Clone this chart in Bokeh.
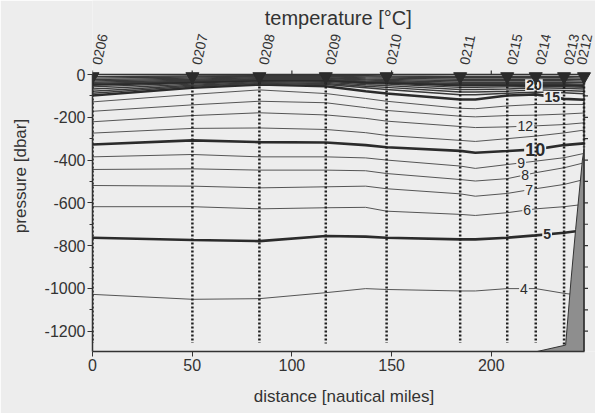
import numpy as np
from bokeh.plotting import figure
from bokeh.models import Range1d, SingleIntervalTicker, ColumnDataSource
from bokeh.core.properties import value
from bokeh.embed import file_html
from bokeh.resources import INLINE

# ---------------- data ----------------
station_names = ["0206", "0207", "0208", "0209", "0210", "0211", "0215", "0214", "0213", "0212"]
station_x = [0, 50.1, 83.7, 117, 147.5, 184.4, 208, 222.3, 236.5, 246.5]
cast_depth = [-1255, -1255, -1255, -1258, -1255, -1255, -1255, -1255, -1262, -340]

iso_x = [0, 50.1, 83.7, 117, 137, 147.5, 184.4, 192, 208, 222.3, 236.5, 246.5]
t04 = [-1028, -1051, -1048, -1020, -1001, -1005, -1012, -1012, -1001, -1001, -1023, -1035]
t05 = [-763, -774, -779, -755, -758, -763, -771, -771, -763, -752, -740, -728]
t06 = [-618, -618, -628, -623, -621, -639, -654, -659, -646, -628, -618, -607]
t07 = [-519, -522, -530, -525, -522, -534, -558, -569, -556, -534, -514, -491]
t08 = [-444, -441, -447, -447, -450, -463, -491, -498, -487, -459, -436, -413]
t09 = [-385, -374, -385, -385, -390, -400, -428, -439, -421, -405, -389, -369]
t10 = [-327, -308, -316, -318, -330, -340, -357, -366, -358, -350, -330, -322]
t11 = [-274, -252, -250, -257, -272, -285, -308, -313, -300, -288, -273, -260]
t12 = [-221, -192, -179, -189, -205, -218, -243, -248, -245, -240, -234, -226]
t13 = [-172, -142, -125, -132, -155, -168, -195, -198, -192, -190, -185, -180]
t14 = [-128, -93, -72, -89, -112, -125, -158, -160, -147, -140, -140, -140]
t15 = [-98, -62, -47, -55, -78, -89, -117, -117, -98, -93, -114, -118]
t16 = [-88, -55, -42, -47, -62, -70, -95, -95, -88, -82, -85, -90]
t17 = [-78, -50, -38, -42, -55, -60, -82, -82, -78, -72, -75, -78]
t18 = [-68, -45, -34, -37, -48, -52, -70, -70, -68, -62, -65, -68]
t19 = [-58, -40, -30, -32, -42, -45, -60, -60, -58, -56, -57, -60]
t20 = [-48, -35, -26, -27, -36, -38, -50, -50, -50, -50, -50, -52]
t21 = [-42, -31, -23, -23, -31, -33, -43, -43, -43, -43, -43, -45]
t22 = [-36, -27, -19, -19, -26, -28, -36, -36, -36, -36, -36, -38]
t23 = [-30, -22, -15, -15, -21, -23, -29, -29, -29, -29, -29, -31]
t24 = [-24, -17, -11, -11, -16, -17, -22, -22, -22, -22, -22, -24]
t25 = [-17, -12, -8, -8, -11, -12, -15, -15, -15, -15, -15, -17]
t26 = [-10, -7, -5, -5, -6, -7, -9, -9, -9, -9, -9, -10]

label_temps = [4, 5, 6, 7, 8, 9, 10, 12, 15, 20]
label_x = [216.4, 228, 218, 219, 217, 215, 222, 217, 230.6, 221.4]

bottom_x = [223, 237.3, 240, 242.3, 245.7, 246.5, 246.5]
bottom_p = [-1295, -1265, -960, -724, -400, -350, -1295]

x_ticks = [0, 50, 100, 150, 200]
y_ticks = [-1200, -1000, -800, -600, -400, -200, 0]
right_ticks = list(range(-1200, 1, 100))

isotherms = {4: t04, 5: t05, 6: t06, 7: t07, 8: t08, 9: t09, 10: t10, 11: t11,
             12: t12, 13: t13, 14: t14, 15: t15, 16: t16, 17: t17, 18: t18,
             19: t19, 20: t20, 21: t21, 22: t22, 23: t23, 24: t24, 25: t25, 26: t26}

# ---------------- layout / style ----------------
BG = "#ededed"
INK = "#333333"
FONT = "Liberation Sans"
W, H = 595, 413
BL = 92                           # left border (px)
TOP0 = 74                         # canvas y of the 0 dbar line
BOX_W, BOX_H = 491.5, 277         # visible box size in px
BB = H - TOP0 - BOX_H             # bottom border
XR = 246.5                        # right edge of the section (nm)
Y0 = -1295                        # bottom of the section (dbar)
px_x = BOX_W / XR
px_y = BOX_H / -Y0
X1 = XR + (W - BL - BOX_W) / px_x
YT = TOP0 / px_y

p = figure(width=W, height=H, x_range=Range1d(0, X1), y_range=Range1d(Y0, YT),
           output_backend="svg", toolbar_location=None,
           min_border_left=BL, min_border_right=0, min_border_top=0, min_border_bottom=BB,
           background_fill_color=BG, border_fill_color=BG)
p.grid.visible = False
p.outline_line_color = None

p.xaxis.ticker = x_ticks
p.yaxis.ticker = SingleIntervalTicker(interval=200, num_minor_ticks=2)
p.xaxis.bounds = (0, XR)
p.yaxis.bounds = (Y0, 0)
p.yaxis.major_label_overrides = {v: str(v) for v in y_ticks}
for ax in (p.xaxis[0], p.yaxis[0]):
    ax.axis_line_color = INK
    ax.axis_line_width = 1.5
    ax.major_tick_line_color = INK
    ax.minor_tick_line_color = INK
    ax.major_tick_in = 0
    ax.major_tick_out = 5
    ax.minor_tick_in = 0
    ax.minor_tick_out = 3
    ax.major_label_text_font = FONT
    ax.major_label_text_font_size = "16px"
    ax.major_label_text_color = INK
    ax.axis_label_text_font = FONT
    ax.axis_label_text_font_size = "17px"
    ax.axis_label_text_font_style = "normal"
    ax.axis_label_text_color = INK
p.xaxis.axis_label = "distance [nautical miles]"
p.yaxis.axis_label = "pressure [dbar]"
p.xaxis.major_label_standoff = 2
p.xaxis.axis_label_standoff = 13
p.yaxis.major_label_standoff = 2
p.yaxis.axis_label_standoff = 12

# isotherms
thick = {5, 10, 15, 20}
for t, ys in isotherms.items():
    if t in thick:
        p.line(iso_x, ys, line_color="#2b2b2b", line_width=2.6)
    elif t > 15:
        p.line(iso_x, ys, line_color="#3a3a3a", line_width=1.4)
    else:
        p.line(iso_x, ys, line_color="#555555", line_width=1.0)

# isotherm labels
lab_y = [float(np.interp(lx, iso_x, isotherms[t])) for t, lx in zip(label_temps, label_x)]
lab_src = ColumnDataSource(dict(
    x=label_x, y=lab_y, text=[str(t) for t in label_temps],
    style=["bold" if t in thick else "normal" for t in label_temps],
    size=["18px" if t == 10 else "14px" for t in label_temps]))
p.text(x="x", y="y", text="text", source=lab_src, text_align="center", text_baseline="middle",
       text_font=value(FONT), text_font_style="style", text_font_size="size",
       text_color="#2b2b2b", background_fill_color=BG, padding=1)

# bottom topography
p.patch(bottom_x, bottom_p, fill_color="#8e8e8e", line_color=INK, line_width=1)

# box: top and right edges with their outward ticks
p.segment(x0=[0, XR], y0=[0, Y0], x1=[XR, XR], y1=[0, 0], line_color=INK, line_width=1.5)
p.segment(x0=x_ticks, y0=[0] * len(x_ticks), x1=x_ticks, y1=[4 / px_y] * len(x_ticks),
          line_color=INK, line_width=1.2)
p.segment(x0=[XR] * len(right_ticks), y0=right_ticks, x1=[XR + 4 / px_x] * len(right_ticks),
          y1=right_ticks, line_color=INK, line_width=1.2)

# station casts
p.segment(x0=station_x, y0=[0] * len(station_x), x1=station_x, y1=cast_depth,
          line_color="#1e1e1e", line_width=2.5, line_dash="2 2")
p.scatter(station_x, [-2 / px_y] * len(station_x), marker="inverted_triangle", size=13,
          fill_color="#2b2b2b", line_color="#2b2b2b")

# station names (last one nudged left so it stays on the page)
name_dx = [4] * (len(station_names) - 1) + [-3]
p.text(x=station_x, y=[10 / px_y] * len(station_x), text=station_names, angle=78,
       angle_units="deg", x_offset=name_dx, text_align="left", text_baseline="middle",
       text_font=value(FONT), text_font_size="14px", text_color=INK)

# title
p.text(x=[XR / 2], y=[57 / px_y], text=["temperature [°C]"], text_align="center",
       text_baseline="middle", text_font=value(FONT), text_font_size="20px", text_color=INK)

open("out.html", "w").write(file_html(p, INLINE))
